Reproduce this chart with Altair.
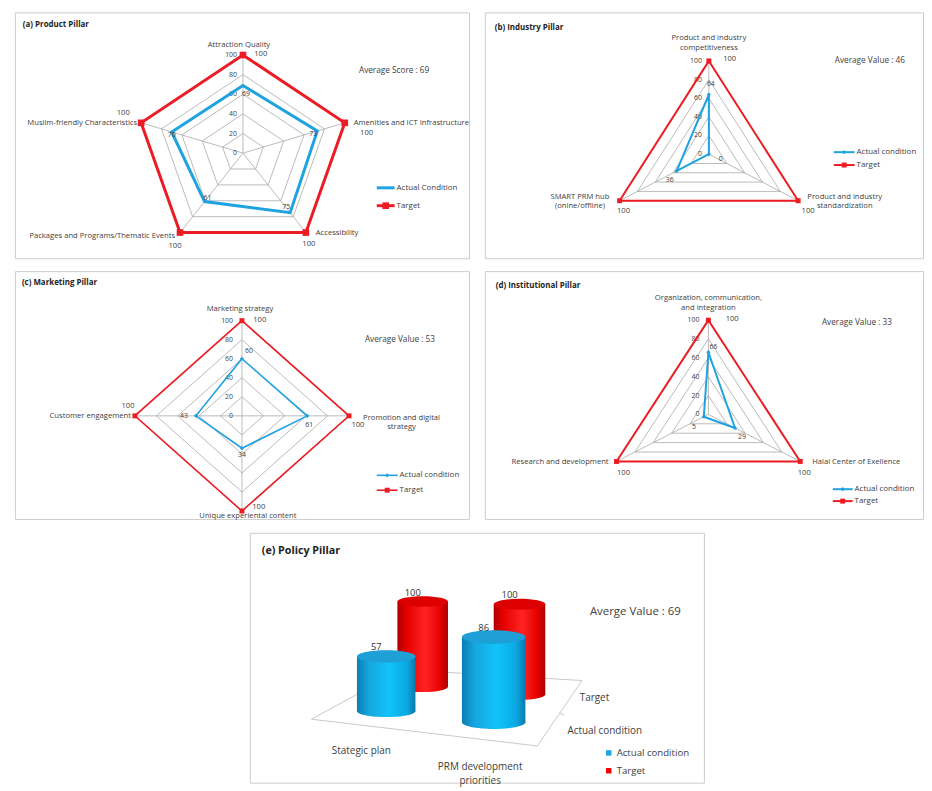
import altair as alt
import pandas as pd

FONT = "Open Sans"
INK = "#404040"
BLUE = "#1fa2e0"
RED = "#ec1c24"
GRID = "#a9a9a9"

# ---------------- data ----------------
GRID_LEVELS = [0, 20, 40, 60, 80, 100]

A_TITLE = "(a) Product Pillar"
A_CATS = ["Attraction Quality", "Amenities and ICT Infrastructure", "Accessibility",
          "Packages and Programs/Thematic Events", "Muslim-friendly Characteristics"]
A_ACTUAL = [69, 73, 75, 61, 70]
A_TARGET = [100, 100, 100, 100, 100]
A_NOTE = "Average Score : 69"
A_LEGEND = ["Actual Condition", "Target"]

B_TITLE = "(b) Industry Pillar"
B_CATS = ["Product and industry\ncompetitiveness", "Product and industry\nstandardization",
          "SMART PRM hub\n(onine/offline)"]
B_ACTUAL = [64, 0, 36]
B_TARGET = [100, 100, 100]
B_NOTE = "Average Value  : 46"
B_LEGEND = ["Actual condition", "Target"]

C_TITLE = "(c) Marketing Pillar"
C_CATS = ["Marketing strategy", "Promotion and digital\nstrategy", "Unique experiental content",
          "Customer engagement"]
C_ACTUAL = [60, 61, 34, 43]
C_TARGET = [100, 100, 100, 100]
C_NOTE = "Average Value  : 53"
C_LEGEND = ["Actual condition", "Target"]

D_TITLE = "(d) Institutional Pillar"
D_CATS = ["Organization, communication,\nand integration", "Halal Center of Exellence",
          "Research and development"]
D_ACTUAL = [66, 29, 5]
D_TARGET = [100, 100, 100]
D_NOTE = "Average Value  : 33"
D_LEGEND = ["Actual condition", "Target"]

E_TITLE = "(e) Policy Pillar"
E_CATS = ["Stategic plan", "PRM development\npriorities"]
E_SERIES = ["Actual condition", "Target"]
E_ACTUAL = [57, 86]
E_TARGET = [100, 100]
E_NOTE = "Averge Value : 69"

# ---------------- layout (styles / positions) ----------------
LAY_A = dict(W=458, H=248, cx=230, cy=142, rx=108, ry=99, lw=3, sq=45, dm=0,
             val=[(3, 9), (-4, 3), (-4, -6), (3, -4), (0, 3)],
             cat=[("center", -4, -10), ("left", 9, 0), ("left", 10, 0), ("right", -5, 3), ("right", -4, 0)],
             top=[(18, -1), (22, 10), (3, 12), (-5, 14), (-18, -10)],
             ring_dx=-6, leg=(365, 383, 177, 18), note=(347, 59), title=(8, 13))
LAY_B = dict(W=442, H=248, cx=226, cy=143, rx=104, ry=94, lw=2, sq=25, dm=18,
             val=[(2, -11), (12, 5), (-7, 9)],
             cat=[("center", 0, -23), ("center", 47, -4), ("center", -40, -4)],
             top=[(21, -2), (10, 10), (4, 10)],
             ring_dx=-7, leg=(352, 373, 141, 13), note=(353, 49), title=(10, 16))
LAY_C = dict(W=458, H=250, cx=229, cy=146, rx=108, ry=96, lw=1.6, sq=25, dm=18,
             val=[(7, -8), (2, 9), (0, 7), (-12, 0)],
             cat=[("center", -2, -12), ("center", 53, 2), ("center", 6, 5), ("right", -4, 0)],
             top=[(18, -1), (9, 9), (17, -4), (-7, -10)],
             ring_dx=-9, leg=(365, 386, 206, 15), note=(353, 69), title=(7, 12))
LAY_D = dict(W=442, H=250, cx=225.5, cy=144.5, rx=107, ry=95, lw=2, sq=25, dm=18,
             val=[(5, -5), (7, 9), (-10, 10)],
             cat=[("center", 0, -22), ("left", 12, 1), ("right", -8, 1)],
             top=[(24, -1), (4, 12), (7, 12)],
             ring_dx=-9, leg=(351, 371, 220, 12), note=(340, 52), title=(11, 15))

FS = 7
FS_CAT = 7.7


def radar(title, cats, actual, target, note, legend, L):
    n = len(cats)
    W, H = L["W"], L["H"]
    xs = alt.Scale(domain=[0, W], nice=False, zero=False)
    ys = alt.Scale(domain=[0, H], reverse=True, nice=False, zero=False)
    pxe = f"{L['cx']} + {L['rx']} * datum.v / 100 * sin(2 * PI * datum.i / {n})"
    pye = f"{L['cy']} - {L['ry']} * datum.v / 100 * cos(2 * PI * datum.i / {n})"

    def X(f):
        return alt.X(f"{f}:Q", scale=xs, axis=None)

    def Y(f):
        return alt.Y(f"{f}:Q", scale=ys, axis=None)

    def proj(ch, vexpr):
        return ch.transform_calculate(v=vexpr).transform_calculate(px=pxe).transform_calculate(py=pye)

    pts = pd.DataFrame({"i": list(range(n)), "cat": cats, "actual": actual, "target": target})
    rings = pd.DataFrame([{"lvl": l, "i": i} for l in GRID_LEVELS[1:] for i in range(n)])
    levels = pd.DataFrame({"lvl": GRID_LEVELS})

    layers = []
    # grid rings
    layers.append(proj(alt.Chart(rings), "datum.lvl").mark_line(
        interpolate="linear-closed", color=GRID, strokeWidth=0.8).encode(
        x=X("px"), y=Y("py"), detail="lvl:N", order="i:Q"))
    # spokes
    layers.append(proj(alt.Chart(pts), "100").transform_calculate(
        ox=str(L["cx"]), oy=str(L["cy"])).mark_rule(color=GRID, strokeWidth=0.8).encode(
        x=X("ox"), y=Y("oy"), x2="px:Q", y2="py:Q"))
    # ring labels
    layers.append(alt.Chart(levels).transform_calculate(i="0").transform_calculate(
        v="datum.lvl").transform_calculate(px=pxe).transform_calculate(py=pye).mark_text(
        align="right", baseline="middle", dx=L["ring_dx"], fontSize=FS, color=INK).encode(
        x=X("px"), y=Y("py"), text="lvl:Q"))
    # target polygon
    tgt = proj(alt.Chart(pts), "datum.target")
    layers.append(tgt.mark_line(interpolate="linear-closed", color=RED, strokeWidth=L["lw"]).encode(
        x=X("px"), y=Y("py"), order="i:Q"))
    layers.append(tgt.mark_point(shape="square", filled=True, opacity=1, color=RED, size=L["sq"]).encode(
        x=X("px"), y=Y("py")))
    # actual polygon
    act = proj(alt.Chart(pts), "datum.actual")
    layers.append(act.mark_line(interpolate="linear-closed", color=BLUE, strokeWidth=L["lw"]).encode(
        x=X("px"), y=Y("py"), order="i:Q"))
    if L["dm"]:
        layers.append(act.mark_point(shape="diamond", filled=True, opacity=1, color=BLUE, size=L["dm"]).encode(
            x=X("px"), y=Y("py")))
    # value labels
    for k, (dx, dy) in enumerate(L["val"]):
        layers.append(act.transform_filter(f"datum.i == {k}").mark_text(
            dx=dx, dy=dy, baseline="middle", fontSize=FS, color=INK).encode(
            x=X("px"), y=Y("py"), text="actual:Q"))
    # category labels and target value labels
    for k, (al, dx, dy) in enumerate(L["cat"]):
        layers.append(tgt.transform_filter(f"datum.i == {k}").mark_text(
            align=al, dx=dx, dy=dy, baseline="middle", lineBreak="\n", fontSize=FS_CAT, color=INK).encode(
            x=X("px"), y=Y("py"), text="cat:N"))
    for k, (dx, dy) in enumerate(L["top"]):
        layers.append(tgt.transform_filter(f"datum.i == {k}").mark_text(
            dx=dx, dy=dy, baseline="middle", fontSize=FS_CAT, color=INK).encode(
            x=X("px"), y=Y("py"), text="target:Q"))
    # legend
    lx1, lx2, ly0, lstep = L["leg"]
    leg = alt.Chart(pd.DataFrame({"k": [0, 1], "name": legend})).transform_calculate(
        ly=f"{ly0} + {lstep} * datum.k", lx1=str(lx1), lx2=str(lx2),
        lxm=str((lx1 + lx2) / 2), lxt=str(lx2 + 2))
    layers.append(leg.transform_filter("datum.k == 0").mark_rule(color=BLUE, strokeWidth=L["lw"]).encode(
        x=X("lx1"), x2="lx2:Q", y=Y("ly")))
    layers.append(leg.transform_filter("datum.k == 1").mark_rule(color=RED, strokeWidth=L["lw"]).encode(
        x=X("lx1"), x2="lx2:Q", y=Y("ly")))
    if L["dm"]:
        layers.append(leg.transform_filter("datum.k == 0").mark_point(
            shape="diamond", filled=True, opacity=1, color=BLUE, size=L["dm"]).encode(x=X("lxm"), y=Y("ly")))
    layers.append(leg.transform_filter("datum.k == 1").mark_point(
        shape="square", filled=True, opacity=1, color=RED, size=L["sq"]).encode(x=X("lxm"), y=Y("ly")))
    layers.append(leg.mark_text(align="left", baseline="middle", fontSize=8, color=INK).encode(
        x=X("lxt"), y=Y("ly"), text="name:N"))
    # title and note
    layers.append(alt.Chart(pd.DataFrame({"t": [title]})).mark_text(
        align="left", baseline="middle", fontWeight="bold", fontSize=8, color="#222222").encode(
        x=alt.value(L["title"][0]), y=alt.value(L["title"][1]), text="t:N"))
    layers.append(alt.Chart(pd.DataFrame({"t": [note]})).mark_text(
        align="left", baseline="middle", fontSize=8.3, color=INK).encode(
        x=alt.value(L["note"][0]), y=alt.value(L["note"][1]), text="t:N"))
    return alt.layer(*layers).properties(width=W, height=H)


# ---------------- policy pillar (pseudo-3D cylinders) ----------------
E_W, E_H = 458, 252
FL, FR, BR, BL = (62, 188), (290, 215), (335, 149), (154, 138)
C0, C1, S0, S1 = -0.465, 1.52, -0.6, 1.6
ELL = "M -1 0 A 1 0.21 0 1 0 1 0 A 1 0.21 0 1 0 -1 0 Z"


def pj(u, v):
    xe = (f"(1-({v}))*((1-({u}))*{FL[0]} + ({u})*{FR[0]}) + ({v})*((1-({u}))*{BL[0]} + ({u})*{BR[0]})")
    ye = (f"(1-({v}))*((1-({u}))*{FL[1]} + ({u})*{FR[1]}) + ({v})*((1-({u}))*{BL[1]} + ({u})*{BR[1]})")
    return xe, ye


def policy():
    xs = alt.Scale(domain=[0, E_W], nice=False, zero=False)
    ys = alt.Scale(domain=[0, E_H], reverse=True, nice=False, zero=False)

    def X(f):
        return alt.X(f"{f}:Q", scale=xs, axis=None)

    def Y(f):
        return alt.Y(f"{f}:Q", scale=ys, axis=None)

    rows = []
    for c, cat in enumerate(E_CATS):
        rows.append({"c": c, "s": 0, "cat": cat, "value": E_ACTUAL[c]})
        rows.append({"c": c, "s": 1, "cat": cat, "value": E_TARGET[c]})
    df = pd.DataFrame(rows)
    U = f"(datum.c - ({C0})) / {C1 - C0}"
    V = f"(datum.s - ({S0})) / {S1 - S0}"

    layers = []
    # floor frame
    fxe, fye = pj("datum.u", "datum.v")
    floor = pd.DataFrame({"o": [0, 1, 2, 3], "u": [0, 1, 1, 0], "v": [0, 0, 1, 1]})
    layers.append(alt.Chart(floor).transform_calculate(fx=fxe).transform_calculate(fy=fye).mark_line(
        interpolate="linear-closed", color="#c8c8c8", strokeWidth=1).encode(
        x=X("fx"), y=Y("fy"), order="o:Q"))
    # depth axis tick + series labels
    sdf = pd.DataFrame({"s": [0, 1], "name": E_SERIES})
    txe, tye = pj("1", "0.5")
    layers.append(alt.Chart(pd.DataFrame({"o": [0]})).transform_calculate(tx=txe).transform_calculate(
        ty=tye).transform_calculate(tx2="datum.tx + 5", ty2="datum.ty + 2").mark_rule(
        color="#c8c8c8").encode(x=X("tx"), y=Y("ty"), x2="tx2:Q", y2="ty2:Q"))
    sxe, sye = pj("1", V)
    sbase = alt.Chart(sdf).transform_calculate(sx=sxe).transform_calculate(sy=sye)
    layers.append(sbase.transform_filter("datum.s == 0").mark_text(
        align="left", baseline="middle", dx=18, dy=3, fontSize=10, color=INK).encode(
        x=X("sx"), y=Y("sy"), text="name:N"))
    layers.append(sbase.transform_filter("datum.s == 1").mark_text(
        align="left", baseline="middle", dx=10, dy=0, fontSize=10, color=INK).encode(
        x=X("sx"), y=Y("sy"), text="name:N"))
    # category labels
    cdf = pd.DataFrame({"c": list(range(len(E_CATS))), "cat": E_CATS})
    cxe, cye = pj(U, "0")
    cbase = alt.Chart(cdf).transform_calculate(qx=cxe).transform_calculate(qy=cye)
    layers.append(cbase.transform_filter("datum.c == 0").mark_text(
        baseline="middle", dx=-3, dy=26, fontSize=10, color=INK, lineBreak="\n").encode(
        x=X("qx"), y=Y("qy"), text="cat:N"))
    layers.append(cbase.transform_filter("datum.c == 1").mark_text(
        baseline="middle", dx=2, dy=28, fontSize=10, color=INK, lineBreak="\n", lineHeight=14).encode(
        x=X("qx"), y=Y("qy"), text="cat:N"))

    bxe, bye = pj(U, V)
    base = (alt.Chart(df)
            .transform_calculate(bx=bxe)
            .transform_calculate(by=bye)
            .transform_calculate(w="59 + 5*datum.c - 8*datum.s - 4*datum.c*datum.s",
                                 k="0.965 + 0.035*datum.c - 0.105*datum.s + 0.015*datum.c*datum.s")
            .transform_calculate(ty="datum.by - datum.value * datum.k",
                                 xl="datum.bx - datum.w / 2", xr="datum.bx + datum.w / 2",
                                 sz="datum.w * datum.w"))

    grads = {
        0: (alt.Gradient(gradient="linear", x1=0, x2=1, y1=0, y2=0, stops=[
            alt.GradientStop(color="#0b7db4", offset=0),
            alt.GradientStop(color="#16a6df", offset=0.2),
            alt.GradientStop(color="#10c4fa", offset=0.55),
            alt.GradientStop(color="#0ba9e2", offset=0.85),
            alt.GradientStop(color="#0a78ad", offset=1)]), "#1e9fd6"),
        1: (alt.Gradient(gradient="linear", x1=0, x2=1, y1=0, y2=0, stops=[
            alt.GradientStop(color="#b00000", offset=0),
            alt.GradientStop(color="#e80000", offset=0.2),
            alt.GradientStop(color="#ff2424", offset=0.55),
            alt.GradientStop(color="#e60000", offset=0.85),
            alt.GradientStop(color="#a80000", offset=1)]), "#dc0000"),
    }
    for s in [1, 0]:
        g, topc = grads[s]
        b = base.transform_filter(f"datum.s == {s}")
        layers.append(b.mark_point(shape=ELL, filled=True, opacity=1, color=g, strokeWidth=0).encode(
            x=X("bx"), y=Y("by"), size=alt.Size("sz:Q", scale=None)))
        layers.append(b.mark_rect(color=g).encode(x=X("xl"), x2="xr:Q", y=Y("by"), y2="ty:Q"))
        layers.append(b.mark_point(shape=ELL, filled=True, opacity=1, color=topc, strokeWidth=0).encode(
            x=X("bx"), y=Y("ty"), size=alt.Size("sz:Q", scale=None)))
        layers.append(b.mark_text(dx=-10, dy=-9, baseline="middle", fontSize=9.5, color="#333333").encode(
            x=X("bx"), y=Y("ty"), text="value:Q"))
    # legend
    leg = alt.Chart(pd.DataFrame({"k": [0, 1], "name": E_SERIES})).transform_calculate(
        ly="222 + 18 * datum.k", lx="362", lxt="370")
    layers.append(leg.transform_filter("datum.k == 0").mark_point(
        shape="square", filled=True, opacity=1, color="#1aa7e0", size=30).encode(x=X("lx"), y=Y("ly")))
    layers.append(leg.transform_filter("datum.k == 1").mark_point(
        shape="square", filled=True, opacity=1, color="#ee0000", size=30).encode(x=X("lx"), y=Y("ly")))
    layers.append(leg.mark_text(align="left", baseline="middle", fontSize=9.7, color=INK).encode(
        x=X("lxt"), y=Y("ly"), text="name:N"))
    layers.append(alt.Chart(pd.DataFrame({"t": [E_TITLE]})).mark_text(
        align="left", baseline="middle", fontWeight="bold", fontSize=10.8, color="#222222").encode(
        x=alt.value(12), y=alt.value(18), text="t:N"))
    layers.append(alt.Chart(pd.DataFrame({"t": [E_NOTE]})).mark_text(
        align="left", baseline="middle", fontSize=11.5, color=INK).encode(
        x=alt.value(343), y=alt.value(80), text="t:N"))
    return alt.layer(*layers).properties(width=E_W, height=E_H)


pa = radar(A_TITLE, A_CATS, A_ACTUAL, A_TARGET, A_NOTE, A_LEGEND, LAY_A)
pb = radar(B_TITLE, B_CATS, B_ACTUAL, B_TARGET, B_NOTE, B_LEGEND, LAY_B)
pc = radar(C_TITLE, C_CATS, C_ACTUAL, C_TARGET, C_NOTE, C_LEGEND, LAY_C)
pd_ = radar(D_TITLE, D_CATS, D_ACTUAL, D_TARGET, D_NOTE, D_LEGEND, LAY_D)
pe = policy()

# invisible spacer that pushes the policy panel to its place in the bottom row
spacer = alt.Chart(pd.DataFrame({"a": [0]})).mark_point(opacity=0).properties(
    width=236, height=10, view=alt.ViewBackground(stroke=None))

chart = alt.vconcat(
    alt.hconcat(pa, pb, spacing=14),
    alt.hconcat(pc, pd_, spacing=14),
    alt.hconcat(spacer, pe, spacing=0),
    spacing=11,
).properties(
    padding={"left": 6, "top": 0, "right": 0, "bottom": 0},
    background="white",
).configure_view(
    stroke="#cccccc", strokeWidth=1
).configure_text(font=FONT)

chart.save("out.html", embed_options={"renderer": "svg", "actions": False})
